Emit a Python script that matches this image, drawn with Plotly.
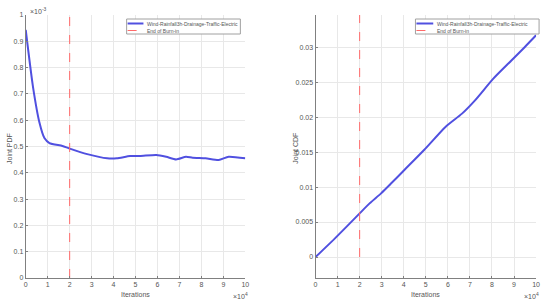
import plotly.graph_objects as go

# Left panel: Joint PDF (scaled x10^-3)
pdf_x = [0, 0.33, 0.63, 0.85, 1.08, 1.67, 1.97, 2.8, 3.71, 4.15, 4.75, 5.2, 5.95, 6.4, 6.85, 7.3, 7.6, 8.19, 8.79, 9.24, 10]
pdf_y = [0.943, 0.727, 0.589, 0.532, 0.513, 0.502, 0.493, 0.471, 0.455, 0.455, 0.464, 0.464, 0.468, 0.461, 0.451, 0.461, 0.457, 0.455, 0.449, 0.461, 0.455]

# Right panel: Joint CDF
cdf_x = [0, 0.88, 2.0, 2.45, 2.97, 3.42, 3.95, 4.92, 5.89, 6.64, 7.23, 8.06, 8.88, 9.48, 10]
cdf_y = [0.0, 0.00267, 0.00624, 0.00767, 0.0091, 0.0105, 0.0122, 0.0153, 0.0186, 0.0205, 0.0224, 0.0255, 0.0281, 0.0300, 0.0317]

burn_in = 2
series_name = "Wind-Rainfall3h-Drainage-Traffic-Electric"
burn_name = "End of Burn-in"
x_ticks = list(range(0, 11))
pdf_ticks = [0, 0.1, 0.2, 0.3, 0.4, 0.5, 0.6, 0.7, 0.8, 0.9, 1]
cdf_ticks = [0, 0.005, 0.01, 0.015, 0.02, 0.025, 0.03]
cdf_range = [-0.003, 0.0346]

blue = "#5050E0"
red = "#FF6A6A"
txt = "#555555"
font = "Liberation Sans, Arial, sans-serif"

W, H, MT, MB = 550, 303, 15, 25
PH = H - MT - MB


def px(xp):
    return xp / W


def py(yp):
    return (H - MB - yp) / PH


fig = go.Figure()
fig.add_trace(go.Scatter(x=pdf_x, y=pdf_y, mode="lines", line=dict(color=blue, width=2, shape="spline", smoothing=0.6),
                         name=series_name, xaxis="x", yaxis="y"))
fig.add_trace(go.Scatter(x=[burn_in, burn_in], y=[0, 1], mode="lines", line=dict(color=red, width=1, dash="dash"),
                         name=burn_name, xaxis="x", yaxis="y"))
fig.add_trace(go.Scatter(x=cdf_x, y=cdf_y, mode="lines", line=dict(color=blue, width=2, shape="spline", smoothing=0.6),
                         name=series_name, xaxis="x2", yaxis="y2"))
fig.add_trace(go.Scatter(x=[burn_in, burn_in], y=[0, cdf_range[1]], mode="lines", line=dict(color=red, width=1, dash="dash"),
                         name=burn_name, xaxis="x2", yaxis="y2"))

axis_common = dict(showgrid=True, gridcolor="#E8E8E8", gridwidth=1, zeroline=False, showline=True,
                   linecolor="#808080", linewidth=1, ticks="inside", ticklen=2, tickcolor="#808080",
                   tickfont=dict(size=7, color=txt, family=font))

fig.update_layout(
    width=W, height=H,
    margin=dict(l=0, r=0, t=MT, b=MB),
    paper_bgcolor="white", plot_bgcolor="white",
    font=dict(family=font, color=txt),
    showlegend=False,
    xaxis=dict(domain=[px(24), px(246)], range=[0, 10], tickvals=x_ticks, anchor="y", **axis_common),
    yaxis=dict(range=[0, 1], tickvals=pdf_ticks, ticktext=[f"{v:g}" for v in pdf_ticks], anchor="x", **axis_common),
    xaxis2=dict(domain=[px(317), px(540)], range=[0, 10], tickvals=x_ticks, anchor="y2", **axis_common),
    yaxis2=dict(range=cdf_range, tickvals=cdf_ticks, ticktext=[f"{v:g}" for v in cdf_ticks], anchor="x2", **axis_common),
)

def ann(text, x, y, xanchor="center", yanchor="middle", size=7, angle=0):
    fig.add_annotation(text=text, xref="paper", yref="paper", x=x, y=y, xanchor=xanchor, yanchor=yanchor,
                       showarrow=False, textangle=angle, font=dict(size=size, color=txt, family=font))

# axis titles
ann("Iterations", px(135), py(294))
ann("Iterations", px(428), py(294))
ann("Joint PDF", px(7), py(148), angle=-90)
ann("Joint CDF", px(296), py(148), angle=-90)
ann("\u00d710<sup>-3</sup>", px(26), py(11), xanchor="left")
ann("\u00d710<sup>4</sup>", px(251), py(296), xanchor="right")
ann("\u00d710<sup>4</sup>", px(545), py(296), xanchor="right")

# custom legends
for (x0, x1, s0, s1) in [(126, 241, 127, 143), (418, 543, 419, 436)]:
    fig.add_shape(type="rect", xref="paper", yref="paper", x0=px(x0), x1=px(x1), y0=py(34), y1=py(19),
                  line=dict(color="#A0A0A0", width=1), fillcolor="white", layer="above")
    fig.add_shape(type="line", xref="paper", yref="paper", x0=px(s0), x1=px(s1), y0=py(23.5), y1=py(23.5),
                  line=dict(color=blue, width=2), layer="above")
    fig.add_shape(type="line", xref="paper", yref="paper", x0=px(s0), x1=px(s1), y0=py(30.5), y1=py(30.5),
                  line=dict(color=red, width=1, dash="dash"), layer="above")
    ann(series_name, px(s1 + 2), py(23.5), xanchor="left", size=5)
    ann(burn_name, px(s1 + 2), py(30.5), xanchor="left", size=5)

fig.write_html("out.html", config={"displayModeBar": False, "staticPlot": True})

# remove default page margin so the figure sits at the window's top-left corner
with open("out.html", encoding="utf-8") as f:
    html = f.read()
html = html.replace("<head>", "<head><style>html,body{margin:0;padding:0;overflow:hidden;}</style>", 1)
with open("out.html", "w", encoding="utf-8") as f:
    f.write(html)
